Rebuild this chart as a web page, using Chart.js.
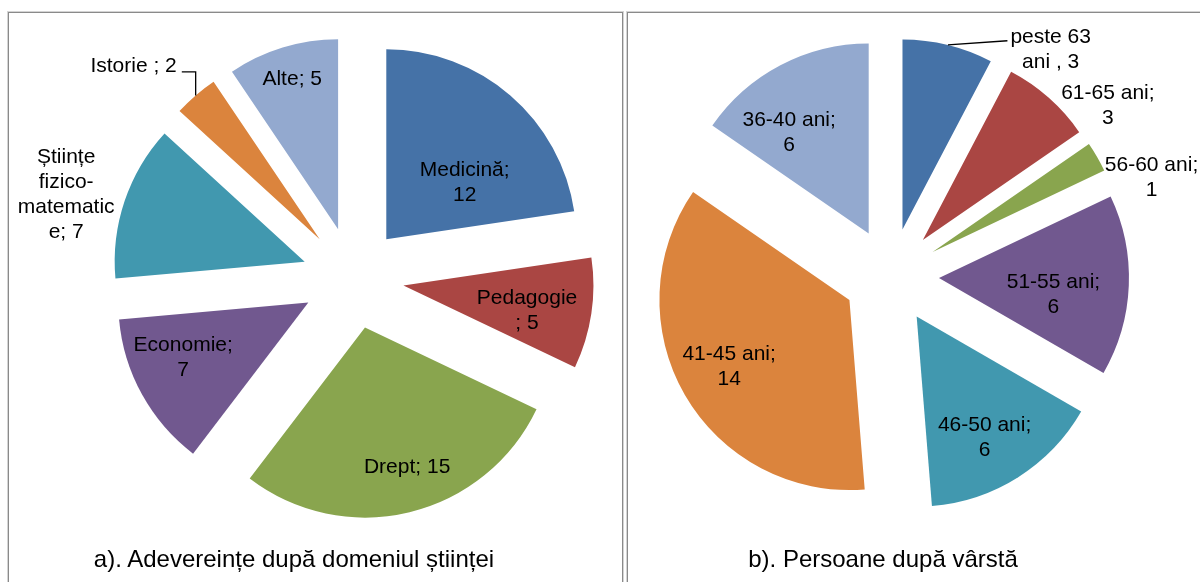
<!DOCTYPE html>
<html lang="ro">
<head>
<meta charset="utf-8">
<title>Adeverințe</title>
<script src="https://cdn.jsdelivr.net/npm/chart.js@4.4.1/dist/chart.umd.min.js"></script>
<style>
  body { margin: 0; background: #fff; }
  #wrap { position: relative; width: 1200px; height: 582px; overflow: hidden; }
  .cadru { position: absolute; border: 1px solid #8a8a8a; box-shadow: 0 0 0 1px #d4d4d4; }
  canvas { position: absolute; top: 0; }
  .titlu {
    position: absolute; top: 559px; transform: translate(-50%, -50%);
    font-family: "Liberation Sans", Arial, sans-serif; font-size: 24px; color: #000;
    white-space: nowrap;
  }
</style>
</head>
<body>
<div id="wrap">
  <div class="cadru" style="left:8px; top:12px; width:613px; height:620px;"></div>
  <div class="cadru" style="left:627px; top:12px; width:620px; height:620px;"></div>
  <canvas id="pieDomenii" width="706" height="556" style="left:0;"></canvas>
  <canvas id="pieVarsta" width="618" height="552" style="left:582px;"></canvas>
  <div class="titlu" style="left:294px;">a). Adevereințe după domeniul științei</div>
  <div class="titlu" style="left:883px;">b). Persoane după vârstă</div>
</div>

<script>
// date: a) domeniul stiintei
const domenii = ['Medicină', 'Pedagogie ', 'Drept', 'Economie', 'Științe fizico-matematice', 'Istorie ', 'Alte'];
const valoriDomenii = [12, 5, 15, 7, 7, 2, 5];
const separatoriDomenii = [';', ';', ';', ';', ';', ';', ';'];

// date: b) varsta
const varste = ['peste 63 ani ', '61-65 ani', '56-60 ani', '51-55 ani', '46-50 ani', '41-45 ani', '36-40 ani'];
const valoriVarste = [3, 3, 1, 6, 6, 14, 6];
const separatoriVarste = [',', ';', ';', ';', ';', ';', ';'];

const culori = ['#4572A7', '#AA4643', '#89A54E', '#71588F', '#4198AF', '#DB843D', '#93A9CF'];

// unde stau etichetele (fractie din raza + mic decalaj)
const pozitiiDomenii = [
  { f: 0.495, dx: 17, dy: 15 },
  { f: 0.663, dx: -1, dy: 7 },
  { f: 0.765, dx: 8, dy: -2 },
  { f: 0.716, dx: -6, dy: -11 },
  { f: 1.303, dx: -4, dy: 12 },
  { f: 1.331, dx: -21, dy: 18, linie: 'cot' },
  { f: 0.827, dx: 0, dy: 0 }
];
const pozitiiVarste = [
  { f: 1.104, dx: 98, dy: 24, linie: 'dreapta' },
  { f: 1.175, dx: 37, dy: 33 },
  { f: 1.197, dx: 22, dy: 39 },
  { f: 0.603, dx: 0, dy: 12 },
  { f: 0.728, dx: -6, dy: 4 },
  { f: 0.725, dx: -1, dy: -2 },
  { f: 0.663, dx: -21, dy: 11 }
];

const FONT = '21px "Liberation Sans", Arial, sans-serif';
const LINIE_H = 25;
const LATIME_MAX = 104;

// impartire text pe randuri, ca la Excel
function imparteText(ctx, text, maxW) {
  const lines = [];
  let cur = '';
  text.split(' ').forEach(function (w) {
    const parts = w.match(/[^-]+-?|-/g) || [w];
    parts.forEach(function (p, k) {
      const sep = (k === 0 && cur) ? ' ' : '';
      const test = cur + sep + p;
      if (!cur || ctx.measureText(test).width <= maxW) {
        cur = test;
      } else {
        lines.push(cur);
        cur = p;
      }
      while (ctx.measureText(cur).width > maxW && cur.length > 1) {
        let n = cur.length;
        while (n > 1 && ctx.measureText(cur.slice(0, n)).width > maxW) n--;
        lines.push(cur.slice(0, n));
        cur = cur.slice(n);
      }
    });
  });
  if (cur) lines.push(cur);
  return lines;
}

// feliile sunt "explodate": mutam centrul fiecarui arc pe bisectoare
const pluginExplodare = {
  id: 'explodare',
  beforeDatasetDraw(chart, args, opts) {
    const ca = chart.chartArea;
    const cx = (ca.left + ca.right) / 2;
    const cy = (ca.top + ca.bottom) / 2;
    args.meta.data.forEach(function (arc) {
      const mid = (arc.startAngle + arc.endAngle) / 2;
      arc.x = cx + Math.cos(mid) * opts.distanta;
      arc.y = cy + Math.sin(mid) * opts.distanta;
    });
  }
};

// etichete de date: "categorie; valoare"
const pluginEtichete = {
  id: 'etichete',
  afterDatasetsDraw(chart, args, opts) {
    const ctx = chart.ctx;
    const meta = chart.getDatasetMeta(0);
    const date = chart.data.datasets[0].data;
    ctx.save();
    ctx.font = FONT;
    ctx.fillStyle = '#000';
    ctx.strokeStyle = '#000';
    ctx.lineWidth = 1.3;
    ctx.textAlign = 'center';
    ctx.textBaseline = 'middle';
    meta.data.forEach(function (arc, i) {
      const poz = opts.pozitii[i];
      const mid = (arc.startAngle + arc.endAngle) / 2;
      const r = arc.outerRadius;
      const x = arc.x + Math.cos(mid) * r * poz.f + poz.dx;
      const y = arc.y + Math.sin(mid) * r * poz.f + poz.dy;
      const text = chart.data.labels[i] + opts.separatori[i] + ' ' + date[i];
      const lines = imparteText(ctx, text, LATIME_MAX);
      let w = 0;
      lines.forEach(function (l) { w = Math.max(w, ctx.measureText(l).width); });

      if (poz.linie) {
        const ax = arc.x + Math.cos(mid) * r;
        const ay = arc.y + Math.sin(mid) * r;
        ctx.beginPath();
        ctx.moveTo(ax, ay);
        if (poz.linie === 'cot') {
          ctx.lineTo(ax, y + 6);
          ctx.lineTo(x + w / 2 + 5, y + 6);
        } else {
          ctx.lineTo(x - w / 2 - 3, y - 9);
        }
        ctx.stroke();
      }

      const y0 = y - (lines.length - 1) * LINIE_H / 2;
      lines.forEach(function (l, k) {
        ctx.fillText(l, x, y0 + k * LINIE_H);
      });
    });
    ctx.restore();
  }
};

function plotarePie(idCanvas, etichete, valori, separatori, pozitii, distanta) {
  const config = {
    type: 'pie',
    data: {
      labels: etichete,
      datasets: [{
        data: valori,
        backgroundColor: culori,
        borderWidth: 0,
        radius: 190
      }]
    },
    options: {
      responsive: false,
      animation: false,
      events: [],
      layout: { padding: 0 },
      plugins: {
        legend: { display: false },
        tooltip: { enabled: false },
        explodare: { distanta: distanta },
        etichete: { pozitii: pozitii, separatori: separatori }
      }
    },
    plugins: [pluginExplodare, pluginEtichete]
  };
  return new Chart(document.getElementById(idCanvas), config);
}

plotarePie('pieDomenii', domenii, valoriDomenii, separatoriDomenii, pozitiiDomenii, 51);
plotarePie('pieVarsta', varste, valoriVarste, separatoriVarste, pozitiiVarste, 48);
</script>
</body>
</html>
